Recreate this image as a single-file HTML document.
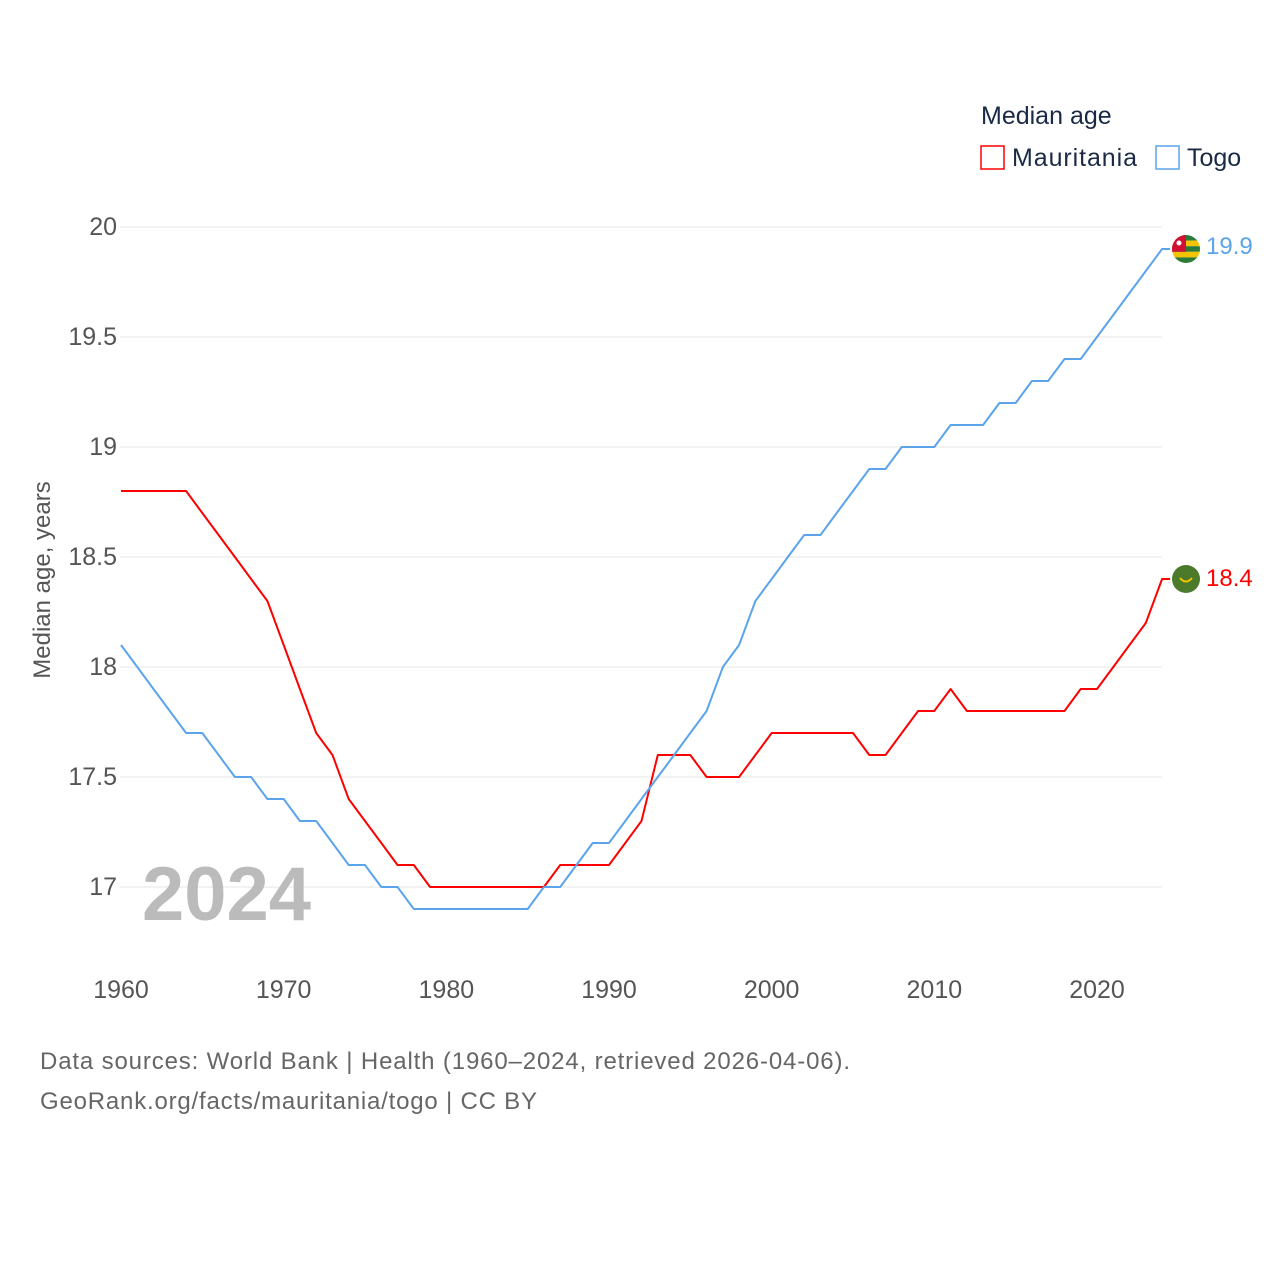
<!DOCTYPE html>
<html><head><meta charset="utf-8"><style>
body{margin:0;background:#fff;}
svg text{font-family:"Liberation Sans",sans-serif;}
</style></head><body>
<svg id="chart" width="1280" height="1280" viewBox="0 0 1280 1280" xmlns="http://www.w3.org/2000/svg">
<g id="grid"></g>
<g id="yticks"></g>
<g id="xticks"></g>
<text x="50" y="580" transform="rotate(-90 50 580)" text-anchor="middle" font-size="24" fill="#555">Median age, years</text>
<text x="142" y="920" font-size="76" font-weight="bold" fill="#bbb">2024</text>
<g id="series"></g>
<g>
<text x="981" y="124" font-size="25" fill="#1a2a44">Median age</text>
<g><rect x="981" y="146" width="23" height="23" fill="none" stroke="#ff0000" stroke-width="1.5"/><text x="1012" y="166" font-size="25" fill="#1a2a44" textLength="125">Mauritania</text></g>
<g><rect x="1156" y="146" width="23" height="23" fill="none" stroke="#5ba4ec" stroke-width="1.5"/><text x="1187" y="166" font-size="25" fill="#1a2a44">Togo</text></g>
</g>
<text x="40" y="1069" font-size="24" fill="#666" textLength="810">Data sources: World Bank | Health (1960–2024, retrieved 2026-04-06).</text>
<text x="40" y="1109" font-size="24" fill="#666" textLength="497">GeoRank.org/facts/mauritania/togo | CC BY</text>
</svg>
<script>
const years=[];for(let y=1960;y<=2024;y++)years.push(y);
const mauritania=[18.8,18.8,18.8,18.8,18.8,18.7,18.6,18.5,18.4,18.3,18.1,17.9,17.7,17.6,17.4,17.3,17.2,17.1,17.1,17.0,17.0,17.0,17.0,17.0,17.0,17.0,17.0,17.1,17.1,17.1,17.1,17.2,17.3,17.6,17.6,17.6,17.5,17.5,17.5,17.6,17.7,17.7,17.7,17.7,17.7,17.7,17.6,17.6,17.7,17.8,17.8,17.9,17.8,17.8,17.8,17.8,17.8,17.8,17.8,17.9,17.9,18.0,18.1,18.2,18.4];
const togo=[18.1,18.0,17.9,17.8,17.7,17.7,17.6,17.5,17.5,17.4,17.4,17.3,17.3,17.2,17.1,17.1,17.0,17.0,16.9,16.9,16.9,16.9,16.9,16.9,16.9,16.9,17.0,17.0,17.1,17.2,17.2,17.3,17.4,17.5,17.6,17.7,17.8,18.0,18.1,18.3,18.4,18.5,18.6,18.6,18.7,18.8,18.9,18.9,19.0,19.0,19.0,19.1,19.1,19.1,19.2,19.2,19.3,19.3,19.4,19.4,19.5,19.6,19.7,19.8,19.9];
const yTicks=[17,17.5,18,18.5,19,19.5,20];
const xTicks=[1960,1970,1980,1990,2000,2010,2020];
const NS="http://www.w3.org/2000/svg";
const X=y=>121+(y-1960)*976/60;
const Y=v=>887-(v-17)*220;
function mk(tag,attrs,parent){const e=document.createElementNS(NS,tag);for(const k in attrs)e.setAttribute(k,attrs[k]);parent.appendChild(e);return e;}
const grid=document.getElementById('grid'),yt=document.getElementById('yticks'),xt=document.getElementById('xticks'),ser=document.getElementById('series');
yTicks.forEach(v=>{
 const l=mk('line',{x1:120,x2:1162,y1:Y(v),y2:Y(v),stroke:'#e6e6e6','stroke-width':1},grid);
 
 
 const t=mk('text',{x:117,y:Y(v)+8,'text-anchor':'end','font-size':25,fill:'#555'},yt);
 t.textContent=String(v);
 
 
});
xTicks.forEach(v=>{
 const t=mk('text',{x:X(v),y:998,'text-anchor':'middle','font-size':25,fill:'#555'},xt);
 t.textContent=String(v);
 
 
});
function line(data,color,name,dy){
 let d=data.map((v,i)=>(i?'L':'M')+X(years[i]).toFixed(1)+','+Y(v).toFixed(1)).join(' ');
 const last=data[data.length-1];
 d+=' L'+(X(2024)+8)+','+Y(last).toFixed(1);
 const p=mk('path',{d:d,fill:'none',stroke:color,'stroke-width':2,'stroke-linejoin':'round'},ser);
 
 
 const t=mk('text',{x:1206,y:Y(last)+8+dy,'font-size':24,fill:color},ser);
 t.textContent=last.toFixed(1);
 
 
 return Y(last);
}
const ym=line(mauritania,'#ff0000','mauritania',-1);
const ytg=line(togo,'#5ba4ec','togo',-3);
const f1=mk('g',{},ser);


mk('circle',{cx:1186,cy:ym,r:14,fill:'#4a7a2a'},f1);
mk('path',{d:`M1180,${ym-1} Q1186,${ym+6} 1192,${ym-1}`,fill:'none',stroke:'#f5c400','stroke-width':2},f1);
const f2=mk('g',{},ser);


mk('clipPath',{id:'tc'},f2);
mk('circle',{cx:1186,cy:ytg,r:14},f2.lastChild);
const fg=mk('g',{'clip-path':'url(#tc)'},f2);
for(let i=0;i<5;i++)mk('rect',{x:1172,y:ytg-14+i*5.6,width:28,height:5.6,fill:i%2?'#f5c400':'#2a7a3a'},fg);
mk('rect',{x:1172,y:ytg-14,width:14,height:16.8,fill:'#d21034'},fg);
mk('circle',{cx:1179,cy:ytg-6,r:2.5,fill:'#fff'},fg);
</script>
</body></html>
